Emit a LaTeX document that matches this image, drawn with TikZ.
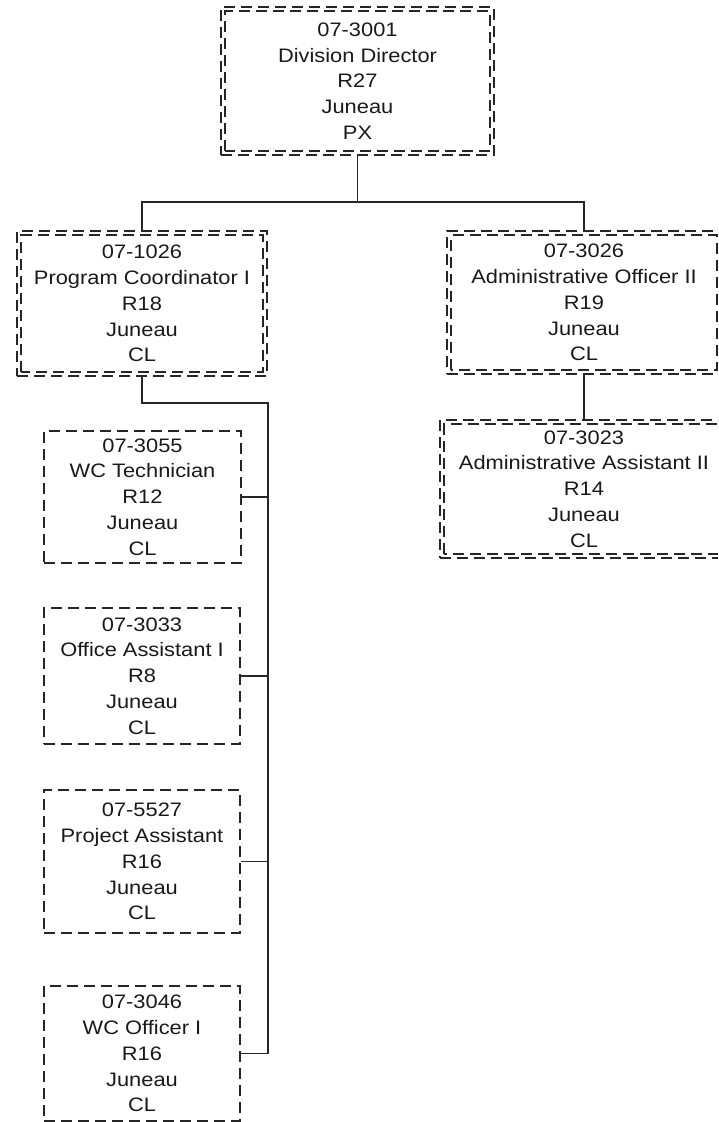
\documentclass[tikz,border=0pt]{standalone}
\usepackage{fontspec}
\setmainfont{Liberation Sans}[FakeStretch=1.12]
\begin{document}
\begin{tikzpicture}[x=1pt,y=-1pt,
  lbl/.style={font=\fontsize{19.5}{25.8}\selectfont, align=center, text=black!90},
  sbox/.style={lbl, rectangle, draw=black!85, line width=1.6pt, dash pattern=on 11pt off 6pt, inner sep=0pt},
  dbox/.style={sbox},
  inbox/.style={draw=black!85, line width=1.6pt, dash pattern=on 11pt off 6pt},
  conn/.style={draw=black!85, line width=1.6pt}]
\useasboundingbox (0,0) rectangle (718,1122);
\clip (0,0) rectangle (718,1122);
% double boxes
\node[dbox, minimum width=273pt, minimum height=148pt] (dd) at (357.5,81) {07-3001\\Division Director\\R27\\Juneau\\PX};
\node[dbox, minimum width=250pt, minimum height=145pt] (pc) at (142,303.5) {07-1026\\Program Coordinator I\\R18\\Juneau\\CL};
\node[dbox, minimum width=274pt, minimum height=143pt] (ao) at (584,302.5) {07-3026\\Administrative Officer II\\R19\\Juneau\\CL};
\node[dbox, minimum width=288pt, minimum height=138pt] (aa) at (584,489) {07-3023\\Administrative Assistant II\\R14\\Juneau\\CL};
\foreach \n in {dd,pc,ao,aa}{
  \draw[inbox] ([shift={(5pt,5pt)}]\n.south west) rectangle ([shift={(-5pt,-5pt)}]\n.north east);
}
% single boxes
\node[sbox, minimum width=197pt, minimum height=132pt] (wt) at (142.5,497) {07-3055\\WC Technician\\R12\\Juneau\\CL};
\node[sbox, minimum width=196pt, minimum height=136pt] (oa) at (142,676) {07-3033\\Office Assistant I\\R8\\Juneau\\CL};
\node[sbox, minimum width=196pt, minimum height=143pt] (pa) at (142,861.5) {07-5527\\Project Assistant\\R16\\Juneau\\CL};
\node[sbox, minimum width=196pt, minimum height=135pt] (wo) at (142,1053.5) {07-3046\\WC Officer I\\R16\\Juneau\\CL};
% connectors
\coordinate (bar) at (357.5,202);
\coordinate (t1) at (268,403);
\coordinate (t2) at (268,1053.5);
\draw[conn] (dd.south) -- (bar);
\draw[conn] (bar) -| (pc.north);
\draw[conn] (bar) -| (ao.north);
\draw[conn] (ao.south) -- (aa.north);
\draw[conn] (pc.south) |- (t1) -- (t2);
\foreach \n in {wt,oa,pa,wo}{
  \draw[conn] (\n.east) -- (\n.east -| t1);
}
\end{tikzpicture}
\end{document}
